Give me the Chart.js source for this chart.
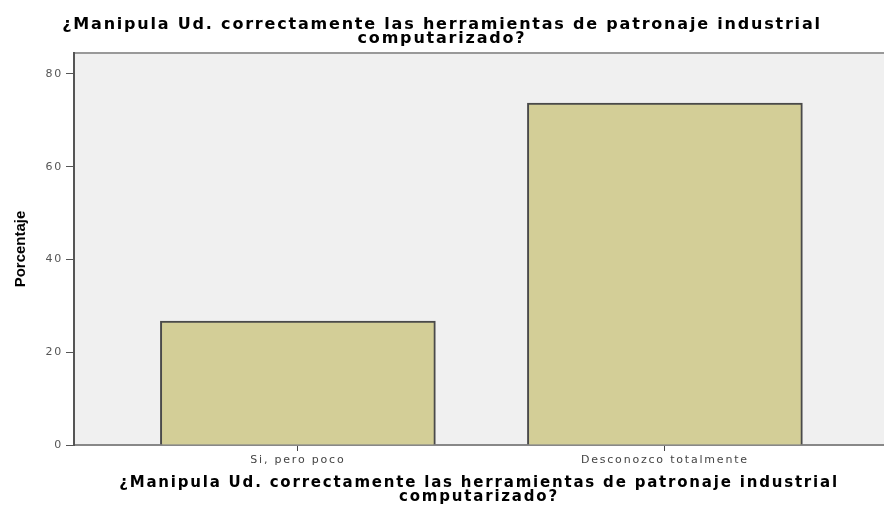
<!DOCTYPE html>
<html>
<head>
<meta charset="utf-8">
<script src="https://cdn.jsdelivr.net/npm/chart.js@4"></script>
<style>
    html, body { margin: 0; padding: 0; background: #fff; }
    #wrap { width: 884px; height: 506px; position: relative; }
</style>
</head>
<body>
<div id="wrap"><canvas id="chart"></canvas></div>
<script>
const categories = ['Si, pero poco', 'Desconozco totalmente'];
const percentages = [26.7, 73.7];
const yTicks = [0, 20, 40, 60, 80];
const titleLines = ['¿Manipula Ud. correctamente las herramientas de patronaje industrial', 'computarizado?'];
const yTitle = 'Porcentaje';

// gray plot background, top frame line, wide letter spacing for the horizontal texts
const plotBg = {
    id: 'plotBg',
    beforeDraw(chart) {
        const { ctx, chartArea: a } = chart;
        ctx.save();
        ctx.fillStyle = '#f0f0f0';
        ctx.fillRect(a.left, a.top, a.right - a.left, a.bottom - a.top);
        ctx.strokeStyle = '#999';
        ctx.lineWidth = 2;
        ctx.beginPath();
        ctx.moveTo(a.left, a.top);
        ctx.lineTo(a.right, a.top);
        ctx.stroke();
        ctx.restore();
        ctx.letterSpacing = '1.8px';
    },
    // y title drawn here so it keeps normal spacing
    afterDraw(chart) {
        const { ctx, chartArea: a } = chart;
        ctx.save();
        ctx.letterSpacing = '0px';
        ctx.translate(20.5, (a.top + a.bottom) / 2);
        ctx.rotate(-Math.PI / 2);
        ctx.font = 'bold 15px "Liberation Sans"';
        ctx.fillStyle = '#000';
        ctx.textAlign = 'center';
        ctx.textBaseline = 'middle';
        ctx.fillText(yTitle, 0, 0);
        ctx.restore();
    }
};

document.addEventListener("DOMContentLoaded", () => {
    const ctx = document.getElementById("chart");

    new Chart(ctx, {
        type: 'bar',
        data: {
            datasets: [{
                data: percentages.map((v, i) => ({ x: i + 1, y: v })),
                backgroundColor: '#d3ce97',
                borderColor: '#4a4a4a',
                borderWidth: 2,
                barThickness: 275,
            }]
        },
        options: {
            responsive: true,
            maintainAspectRatio: false,
            animation: false,
            layout: { padding: 0 },
            plugins: {
                legend: { display: false },
                tooltip: { enabled: false },
                title: {
                    display: true,
                    text: titleLines,
                    color: '#000',
                    font: { family: 'DejaVu Sans', size: 16, weight: 'bold', lineHeight: 14 / 16 },
                    padding: { top: 18, bottom: 7 },
                }
            },
            scales: {
                x: {
                    type: 'linear',
                    min: 0.39,
                    max: 2.597,
                    offset: false,
                    afterBuildTicks: (scale) => {
                        scale.ticks = categories.map((c, i) => ({ value: i + 1 }));
                    },
                    afterFit: (scale) => { scale.height = 61; },
                    ticks: {
                        autoSkip: false,
                        maxRotation: 0,
                        padding: 3,
                        color: '#444',
                        font: { family: 'DejaVu Sans', size: 11 },
                        callback: (v) => categories[v - 1],
                    },
                    grid: {
                        offset: false,
                        drawOnChartArea: false,
                        drawTicks: true,
                        tickLength: 6,
                        color: '#444',
                    },
                    border: { display: true, color: '#888', width: 2 },
                    title: {
                        display: true,
                        text: titleLines,
                        color: '#000',
                        font: { family: 'DejaVu Sans', size: 15, weight: 'bold', lineHeight: 14 / 15 },
                        padding: { top: 0, bottom: 2 },
                    }
                },
                y: {
                    min: 0,
                    max: 84.5,
                    afterBuildTicks: (scale) => {
                        scale.ticks = yTicks.map(v => ({ value: v }));
                    },
                    afterFit: (scale) => { scale.width = 74; },
                    ticks: {
                        padding: 3,
                        color: '#555',
                        font: { family: 'DejaVu Sans', size: 11 },
                    },
                    grid: {
                        drawOnChartArea: false,
                        drawTicks: true,
                        tickLength: 8,
                        color: '#555',
                    },
                    border: { display: true, color: '#555', width: 2 },
                    title: { display: false }
                }
            }
        },
        plugins: [plotBg]
    });
});
</script>
</body>
</html>
